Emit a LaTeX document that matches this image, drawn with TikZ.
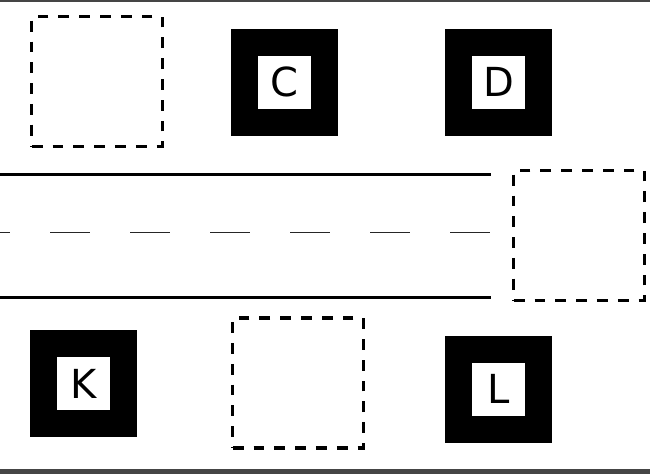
\documentclass[tikz,border=0pt]{standalone}
\usepackage{fontspec}
\setmainfont{DejaVu Sans}
\begin{document}
\begin{tikzpicture}[x=1pt,y=-1pt,
  marker/.style={draw=black,line width=27pt,fill=white,minimum width=80pt,minimum height=80pt,inner sep=0pt,font=\fontsize{40}{40}\selectfont,text=black},
  slot/.style={draw=black,line width=3.2pt,dash pattern=on 10.8pt off 10pt,minimum width=130.5pt,minimum height=130pt,inner sep=0pt},
  edgeline/.style={line width=2.7pt,black},
  centerline/.style={line width=1.5pt,black!85,dash pattern=on 40pt off 40pt,dash phase=30pt},
  framebar/.style={fill=black!73,draw=none}]
\useasboundingbox (0,0) rectangle (650,474);
\fill[white] (0,0) rectangle (650,474);
% frame bars
\fill[framebar] (0,0) rectangle (650,2);
\fill[framebar] (0,469) rectangle (650,474);
% road
\coordinate (rtl) at (0,174.3);
\coordinate (rtr) at (491,174.3);
\coordinate (rbl) at (0,297.3);
\coordinate (rbr) at (491,297.3);
\coordinate (rcl) at (0,232.3);
\coordinate (rcr) at (491,232.3);
\draw[edgeline] (rtl) -- (rtr);
\draw[edgeline] (rbl) -- (rbr);
\draw[centerline] (rcl) -- (rcr);
% empty slots
\node[slot] (s1) at (97,81.5) {};
\node[slot] (s2) at (579,235.5) {};
\node[slot] (s3) at (298,383) {};
% markers
\node[marker] (C) at (284.5,82) {C};
\node[marker] (D) at (498.5,82) {D};
\node[marker] (K) at (83.5,383.5) {K};
\node[marker] (L) at (498.5,389) {L};
\end{tikzpicture}
\end{document}
